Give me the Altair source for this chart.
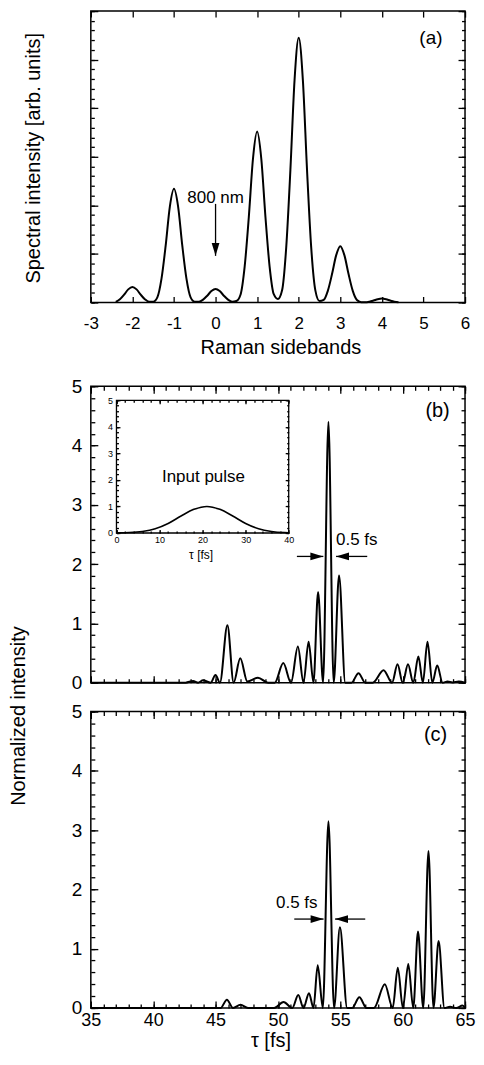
import altair as alt
import pandas as pd

FONT = "Liberation Sans"

# ---------------- panel (a): Raman sideband spectrum ----------------
a_sideband = [-2.4, -2.3, -2.2, -2.1, -2.0, -1.9, -1.8, -1.7, -1.6, -1.5,
              -1.4, -1.3, -1.2, -1.1, -1.0, -0.9, -0.8, -0.7, -0.6, -0.5,
              -0.4, -0.3, -0.2, -0.1, 0.0, 0.1, 0.2, 0.3, 0.4, 0.5,
              0.6, 0.7, 0.8, 0.9, 1.0, 1.1, 1.2, 1.3, 1.4, 1.5,
              1.6, 1.7, 1.8, 1.9, 2.0, 2.1, 2.2, 2.3, 2.4, 2.5,
              2.6, 2.7, 2.8, 2.9, 3.0, 3.1, 3.2, 3.3, 3.4, 3.5,
              3.6, 3.7, 3.8, 3.9, 4.0, 4.1, 4.2, 4.3, 4.4]
a_intensity = [0.014, 0.067, 0.16, 0.27, 0.32, 0.27, 0.16, 0.067, 0.016, 0.016,
               0.105, 0.49, 1.17, 1.97, 2.34, 1.97, 1.17, 0.49, 0.105, 0.016,
               0.016, 0.059, 0.14, 0.235, 0.28, 0.235, 0.14, 0.059, 0.016, 0.03,
               0.16, 0.74, 1.76, 2.96, 3.52, 2.96, 1.76, 0.74, 0.17, 0.07,
               0.25, 1.14, 2.73, 4.58, 5.45, 4.58, 2.73, 1.14, 0.25, 0.03,
               0.052, 0.24, 0.58, 0.97, 1.16, 0.97, 0.58, 0.24, 0.052, 0.007,
               0.005, 0.017, 0.04, 0.067, 0.08, 0.067, 0.04, 0.017, 0.004]
a_xdomain = [-3, 6]
a_ydomain = [0, 6]
a_xticks = [-3, -2, -1, 0, 1, 2, 3, 4, 5, 6]
a_ymajor = [0, 1, 2, 3, 4, 5, 6]
a_yminor = [round(i * 0.2, 1) for i in range(31)]
a_arrow_x = [0.0]
a_arrow_from = [2.03]
a_arrow_tip = [0.96]
a_note = ["800 nm"]
a_note_x = [0.0]
a_note_y = [2.16]
a_tag = ["(a)"]
a_tag_x = [5.18]
a_tag_y = [5.44]

# ---------------- panels (b), (c): common axes ----------------
bc_xdomain = [35, 65]
bc_ydomain = [0, 5]
bc_xmajor = [35, 40, 45, 50, 55, 60, 65]
bc_xminor = list(range(35, 66))
bc_ymajor = [0, 1, 2, 3, 4, 5]
bc_yminor = [round(i * 0.2, 1) for i in range(26)]

# ---------------- panel (b) ----------------
b_tau = [35.0, 42.6, 43.2, 43.6, 44.0, 44.6, 45.0, 45.35, 45.95, 46.45,
         46.98, 47.55, 48.4, 49.2, 49.75, 50.43, 51.05, 51.6, 52.05, 52.46,
         52.85, 53.22, 53.62, 54.05, 54.47, 54.9, 55.4, 55.9, 56.46, 57.0,
         57.6, 58.47, 59.15, 59.59, 60.0, 60.43, 60.85, 61.26, 61.62, 61.99,
         62.38, 62.77, 63.2, 63.6, 64.0, 64.5, 65.0]
b_int = [0.0, 0.0, 0.03, 0.0, 0.04, 0.0, 0.13, 0.0, 0.97, 0.0,
         0.41, 0.02, 0.085, 0.0, 0.0, 0.33, 0.0, 0.61, 0.0, 0.69,
         0.0, 1.53, 0.0, 4.40, 0.0, 1.81, 0.0, 0.0, 0.16, 0.0,
         0.0, 0.21, 0.0, 0.31, 0.0, 0.31, 0.0, 0.44, 0.0, 0.69,
         0.0, 0.29, 0.0, 0.02, 0.005, 0.02, 0.0]
b_arrow_from = [51.52, 57.16]
b_arrow_tip = [53.64, 54.66]
b_arrow_y = [2.13, 2.13]
b_note = ["0.5 fs"]
b_note_x = [54.66]
b_note_y = [2.41]
b_tag = ["(b)"]
b_tag_x = [62.8]
b_tag_y = [4.58]

# inset of (b): input pulse
inset_tau = [0, 3, 6, 9, 12, 15, 18, 21, 24, 27, 30, 33, 36, 39, 40]
inset_int = [0.004, 0.017, 0.059, 0.16, 0.36, 0.64, 0.89, 1.0, 0.89, 0.64,
             0.36, 0.16, 0.059, 0.017, 0.011]
inset_xdomain = [0, 40]
inset_ydomain = [0, 5]
inset_xmajor = [0, 10, 20, 30, 40]
inset_xminor = list(range(0, 41, 2))
inset_ymajor = [0, 1, 2, 3, 4, 5]
inset_yminor = [round(i * 0.2, 1) for i in range(26)]
inset_note = ["Input pulse"]
inset_note_x = [20.2]
inset_note_y = [2.1]

# ---------------- panel (c) ----------------
c_tau = [35.0, 45.4, 45.91, 46.4, 47.0, 47.6, 49.7, 50.45, 51.15, 51.63,
         52.05, 52.49, 52.85, 53.19, 53.6, 54.05, 54.5, 54.97, 55.55, 55.95,
         56.53, 57.1, 57.7, 58.57, 59.2, 59.61, 60.02, 60.45, 60.85, 61.23,
         61.65, 62.07, 62.47, 62.88, 63.35, 63.8, 64.3, 64.8, 65.0]
c_int = [0.0, 0.0, 0.14, 0.0, 0.056, 0.0, 0.0, 0.1, 0.0, 0.22,
         0.0, 0.25, 0.0, 0.72, 0.0, 3.15, 0.0, 1.36, 0.0, 0.0,
         0.18, 0.0, 0.0, 0.40, 0.0, 0.68, 0.0, 0.74, 0.0, 1.29,
         0.0, 2.65, 0.0, 1.13, 0.0, 0.02, 0.0, 0.04, 0.0]
c_arrow_from = [51.31, 57.0]
c_arrow_tip = [53.66, 54.58]
c_arrow_y = [1.5, 1.5]
c_note = ["0.5 fs"]
c_note_x = [53.17]
c_note_y = [1.77]
c_tag = ["(c)"]
c_tag_x = [62.64]
c_tag_y = [4.6]

# ---------------- geometry / style ----------------
W = 375
HA = 292
HB = 297
GAP_AB = 84
GAP_BC = 29
MAJ = 7
MIN = 4
TW = 1.3
LW = 2.0
# inset frame inside panel (b), in px relative to the plot area
IN_L, IN_R, IN_T, IN_B = 25.7, 198.3, 14.0, 147.0

DOWN = "M0,0L-0.6,-2L0.6,-2Z"
RIGHT = "M0,0L-2,-0.6L-2,0.6Z"
LEFT = "M0,0L2,-0.6L2,0.6Z"


def ax(orient, values, size, edge=0.0, labels=False, **kw):
    kw.setdefault("title", None)
    return alt.Axis(orient=orient, values=values, tickSize=size, offset=edge - size,
                    labels=labels, domain=False, grid=False, ticks=True, minExtent=0,
                    tickColor="black", tickWidth=TW, **kw)


def ghost(xdom, ydom, xs, ys, xaxis, yaxis):
    df = pd.DataFrame({"gx": xdom, "gy": ydom})
    return alt.Chart(df).mark_point(opacity=0, size=1).encode(
        x=alt.X("gx:Q", scale=xs, axis=xaxis),
        y=alt.Y("gy:Q", scale=ys, axis=yaxis))


def text_layer(texts, tx, ty, xs, ys, size, align="center"):
    df = pd.DataFrame({"t": texts, "tx": tx, "ty": ty})
    return alt.Chart(df).mark_text(font=FONT, fontSize=size, align=align,
                                   baseline="middle", color="black").encode(
        x=alt.X("tx:Q", scale=xs, axis=None),
        y=alt.Y("ty:Q", scale=ys, axis=None),
        text="t:N")


def harrows(x_from, x_tip, y, xs, ys):
    df = pd.DataFrame({"x0": x_from, "x1": x_tip, "y": y})
    rule = alt.Chart(df).mark_rule(color="black", strokeWidth=TW).encode(
        x=alt.X("x0:Q", scale=xs, axis=None), x2="x1:Q",
        y=alt.Y("y:Q", scale=ys, axis=None))
    out = [rule]
    for sub, shape in ((df[df.x1 > df.x0], RIGHT), (df[df.x1 < df.x0], LEFT)):
        out.append(alt.Chart(sub).mark_point(shape=shape, size=169, filled=True,
                                             color="black", opacity=1, strokeWidth=0).encode(
            x=alt.X("x1:Q", scale=xs, axis=None),
            y=alt.Y("y:Q", scale=ys, axis=None)))
    return out


def sc(dom, rng=None):
    if rng is None:
        return alt.Scale(domain=dom, nice=False, zero=False)
    return alt.Scale(domain=dom, range=rng, nice=False, zero=False)


def finish(layers, h):
    return alt.layer(*layers).resolve_scale(x="independent", y="independent").resolve_axis(
        x="independent", y="independent").properties(width=W, height=h)


# ---------------- build panel (a) ----------------
xs = sc(a_xdomain)
ys = sc(a_ydomain)
line_a = alt.Chart(pd.DataFrame({"x": a_sideband, "y": a_intensity})).mark_line(
    color="black", strokeWidth=LW, interpolate="monotone").encode(
    x=alt.X("x:Q", scale=xs, axis=ax("bottom", a_xticks, 6, labels=True, labelFontSize=17,
                                      labelPadding=13, labelFlush=False, labelOverlap=False,
                                      labelExpr="'' + datum.value",
                                      title="Raman sidebands", titleFontSize=20,
                                      titleX=190, titleY=51, titleAlign="center",
                                      titleBaseline="middle")),
    y=alt.Y("y:Q", scale=ys, axis=ax("left", a_ymajor, MAJ,
                                      title="Spectral intensity [arb. units]", titleFontSize=20,
                                      titleX=-64, titleY=147, titleAlign="center",
                                      titleBaseline="middle", titleAngle=270)))
arrow_a = alt.Chart(pd.DataFrame({"x": a_arrow_x, "y0": a_arrow_from, "y1": a_arrow_tip})).mark_rule(
    color="black", strokeWidth=TW).encode(
    x=alt.X("x:Q", scale=xs, axis=None), y=alt.Y("y0:Q", scale=ys, axis=None), y2="y1:Q")
head_a = alt.Chart(pd.DataFrame({"x": a_arrow_x, "y": a_arrow_tip})).mark_point(
    shape=DOWN, size=169, filled=True, color="black", opacity=1, strokeWidth=0).encode(
    x=alt.X("x:Q", scale=xs, axis=None), y=alt.Y("y:Q", scale=ys, axis=None))
panel_a = finish([
    line_a,
    ghost(a_xdomain, a_ydomain, xs, ys, ax("top", a_xticks, 6), ax("left", a_yminor, 3.5)),
    ghost(a_xdomain, a_ydomain, xs, ys, None, ax("right", a_ymajor, MAJ)),
    ghost(a_xdomain, a_ydomain, xs, ys, None, ax("right", a_yminor, 3.5)),
    arrow_a, head_a,
    text_layer(a_note, a_note_x, a_note_y, xs, ys, 17),
    text_layer(a_tag, a_tag_x, a_tag_y, xs, ys, 19),
], HA)


# ---------------- build panels (b) and (c) ----------------
def main_layers(tau, val, xs, ys, xlabels, ytitle):
    if xlabels:
        xaxis = ax("bottom", bc_xmajor, MAJ, labels=True, labelFontSize=18, labelPadding=4,
                   labelFlush=False, labelOverlap=False, title="τ [fs]", titleFontSize=20,
                   titleX=180, titleY=40, titleAlign="center", titleBaseline="middle")
    else:
        xaxis = ax("bottom", bc_xmajor, MAJ)
    ykw = dict(labels=True, labelFontSize=19, labelPadding=9)
    if ytitle:
        ykw.update(title="Normalized intensity", titleFontSize=20, titleX=-79, titleY=330,
                   titleAlign="center", titleBaseline="middle", titleAngle=270)
    line = alt.Chart(pd.DataFrame({"tau": tau, "v": val})).mark_line(
        color="black", strokeWidth=LW, interpolate="monotone").encode(
        x=alt.X("tau:Q", scale=xs, axis=xaxis),
        y=alt.Y("v:Q", scale=ys, axis=ax("left", bc_ymajor, MAJ, **ykw)))
    return [
        line,
        ghost(bc_xdomain, bc_ydomain, xs, ys, ax("bottom", bc_xminor, MIN), ax("left", bc_yminor, MIN)),
        ghost(bc_xdomain, bc_ydomain, xs, ys, ax("top", bc_xmajor, MAJ), ax("right", bc_ymajor, MAJ)),
        ghost(bc_xdomain, bc_ydomain, xs, ys, ax("top", bc_xminor, MIN), ax("right", bc_yminor, MIN)),
    ]


xs_b = sc(bc_xdomain)
ys_b = sc(bc_ydomain)
ixs = sc(inset_xdomain, [IN_L, IN_R])
iys = sc(inset_ydomain, [IN_B, IN_T])
e_b = IN_B - HB          # bottom edge offset
e_l = -IN_L
e_t = -IN_T
e_r = IN_R - W
inset_line = alt.Chart(pd.DataFrame({"t": inset_tau, "v": inset_int})).mark_line(
    color="black", strokeWidth=1.6, interpolate="monotone").encode(
    x=alt.X("t:Q", scale=ixs, axis=ax("bottom", inset_xmajor, 3.5, edge=e_b, labels=True,
                                       labelFontSize=9, labelPadding=3, labelFlush=False,
                                       labelOverlap=False, title="τ [fs]", titleFontSize=12,
                                       titleX=110, titleY=25.5, titleAlign="center",
                                       titleBaseline="middle")),
    y=alt.Y("v:Q", scale=iys, axis=ax("left", inset_ymajor, 3.5, edge=e_l, labels=True,
                                       labelFontSize=9, labelPadding=4)))
inset_frame = alt.Chart(pd.DataFrame({"x0": [inset_xdomain[0]], "x1": [inset_xdomain[1]],
                                      "y0": [inset_ydomain[0]], "y1": [inset_ydomain[1]]})).mark_rect(
    fillOpacity=0, stroke="black", strokeWidth=1.3).encode(
    x=alt.X("x0:Q", scale=ixs, axis=None), x2="x1:Q",
    y=alt.Y("y0:Q", scale=iys, axis=None), y2="y1:Q")

panel_b = finish(
    main_layers(b_tau, b_int, xs_b, ys_b, False, True)
    + [inset_line,
       ghost(inset_xdomain, inset_ydomain, ixs, iys, ax("bottom", inset_xminor, 2, edge=e_b),
             ax("left", inset_yminor, 2, edge=e_l)),
       ghost(inset_xdomain, inset_ydomain, ixs, iys, ax("top", inset_xmajor, 3.5, edge=e_t),
             ax("right", inset_ymajor, 3.5, edge=e_r)),
       ghost(inset_xdomain, inset_ydomain, ixs, iys, ax("top", inset_xminor, 2, edge=e_t),
             ax("right", inset_yminor, 2, edge=e_r)),
       inset_frame,
       text_layer(inset_note, inset_note_x, inset_note_y, ixs, iys, 17)]
    + harrows(b_arrow_from, b_arrow_tip, b_arrow_y, xs_b, ys_b)
    + [text_layer(b_note, b_note_x, b_note_y, xs_b, ys_b, 17, align="left"),
       text_layer(b_tag, b_tag_x, b_tag_y, xs_b, ys_b, 20)],
    HB)

xs_c = sc(bc_xdomain)
ys_c = sc(bc_ydomain)
panel_c = finish(
    main_layers(c_tau, c_int, xs_c, ys_c, True, False)
    + harrows(c_arrow_from, c_arrow_tip, c_arrow_y, xs_c, ys_c)
    + [text_layer(c_note, c_note_x, c_note_y, xs_c, ys_c, 17, align="right"),
       text_layer(c_tag, c_tag_x, c_tag_y, xs_c, ys_c, 20)],
    HB)

bc = alt.vconcat(panel_b, panel_c, spacing=GAP_BC, bounds="flush")
chart = alt.vconcat(panel_a, bc, spacing=GAP_AB, bounds="flush").properties(
    padding={"left": 0, "top": 0, "right": 0, "bottom": 0}
).configure(font=FONT).configure_view(stroke="black", strokeWidth=1.5).configure_axis(
    labelFont=FONT, titleFont=FONT, labelColor="black", titleColor="black",
    titleFontWeight="normal", tickColor="black")

chart.save("out.html", embed_options={"renderer": "svg", "actions": False})
